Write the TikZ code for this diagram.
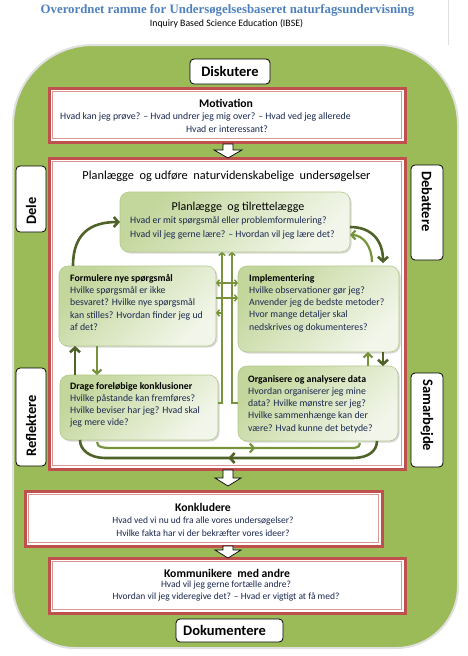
\documentclass[tikz,border=0pt]{standalone}
\usepackage{fontspec}
\setmainfont{Carlito}
\newfontfamily\titlefont{Liberation Serif}
\usetikzlibrary{arrows.meta,calc,shadows,decorations.markings}

\definecolor{grn}{HTML}{9BBB59}
\definecolor{redb}{HTML}{C0504D}
\definecolor{pinkb}{HTML}{D99694}
\definecolor{darkg}{HTML}{4F6228}
\definecolor{lightg}{HTML}{77933C}
\definecolor{txtb}{HTML}{1A2850}
\definecolor{ttl}{HTML}{4F81BD}
\definecolor{gbdark}{HTML}{C3D69B}
\definecolor{gblight}{HTML}{F2F6EA}
\definecolor{gbedge}{HTML}{B3C98A}

\tikzset{
  redbox/.style={draw=redb, line width=3pt, fill=white, inner sep=0pt, outer sep=0pt},
  pinkline/.style={draw=pinkb, line width=0.8pt},
  greenbox/.style={draw=gbedge, line width=0.6pt, rounded corners=9pt,
     top color=gbdark, bottom color=gblight, shading angle=45,
     drop shadow={shadow xshift=1.5pt, shadow yshift=-1.5pt, opacity=0.3},
     inner sep=0pt, outer sep=0pt},
  labelbox/.style={draw=black, line width=0.8pt, fill=white, rounded corners=4pt,
     font=\bfseries\fontsize{14.5}{16}\selectfont, inner sep=0pt, outer sep=0pt},
  labeltext/.style={font=\bfseries\fontsize{14.5}{16}\selectfont, inner sep=0pt},
  headfont/.style={font=\bfseries\fontsize{11.7}{14}\selectfont, inner sep=0pt},
  bodytext/.style={font=\fontsize{9.8}{12.3}\selectfont, text=txtb, inner sep=0pt},
  smalltext/.style={font=\fontsize{9.5}{12.6}\selectfont, text=txtb, inner sep=0pt},
  darkarrow/.style={draw=darkg, line width=2.6pt, -{Straight Barb[length=4.5pt,width=10pt]}},
  darkline/.style={draw=darkg, line width=2.6pt},
  lightarrow/.style={draw=lightg, line width=2.2pt, -{Straight Barb[length=4pt,width=9pt]}},
  lightline/.style={draw=lightg, line width=2.2pt},
  thinarrow/.style={draw=lightg, line width=1.5pt, -{Straight Barb[length=2.5pt,width=6.5pt]}},
  blockarrow/.style={draw=black, line width=0.7pt, fill=white, line join=miter},
}

\begin{document}
\begin{tikzpicture}[x=1pt,y=-1pt]
\useasboundingbox (0,0) rectangle (467,656);
\fill[white] (0,0) rectangle (467,656);

% page edge
\draw[gray!25, line width=0.6pt] (448,0) -- (448,45);

% big green shape
\path[draw=white!88!black, line width=2pt, fill=grn]
  (13,350) [rounded corners=80pt] -- (13,45) -- (458,45) -- (458,350)
  [rounded corners=62pt] -- (458,648) -- (13,648) -- cycle;

% title
\node[font=\titlefont\bfseries\fontsize{12.8}{14}\selectfont, text=ttl, inner sep=0pt] (title) at (227.5,10) {Overordnet ramme for Undersøgelsesbaseret naturfagsundervisning};
\node[font=\fontsize{9.8}{11}\selectfont, inner sep=0pt] (subtitle) at (226.5,23.5) {Inquiry Based Science Education (IBSE)};

% Diskutere
\node[labelbox, minimum width=80pt, minimum height=25pt] (disk) at (230,71.5) {Diskutere};

% Motivation
\node[redbox, minimum width=356pt, minimum height=54pt] (mot) at (227,115) {};
\draw[pinkline] ($(mot.north west)+(3.5,3.5)$) rectangle ($(mot.south east)+(-3.5,-3.5)$);
\node[headfont] (motH) at (226,103) {Motivation};
\node[bodytext, anchor=west] (motL1) at (60,117) {Hvad kan jeg prøve? – Hvad undrer jeg mig over? – Hvad ved jeg allerede};
\node[bodytext] (motL2) at (227,129) {Hvad er interessant?};

% Main box
\node[redbox, minimum width=356pt, minimum height=311pt] (main) at (227,313.5) {};
\draw[pinkline] ($(main.north west)+(3.5,3.5)$) rectangle ($(main.south east)+(-3.5,-3.5)$);
\node[font=\fontsize{12.3}{14}\selectfont, inner sep=0pt] (mainT) at (226.5,176) {Planlægge\ \ og udføre\ \ naturvidenskabelige\ \ undersøgelser};

% block arrow motivation -> main
\coordinate (a1) at ($(mot.south)+(1,8)$);
\draw[blockarrow] (a1) ++(-5,-6) -- ++(0,6) -- ++(-9,0) -- ++(14,8) -- ++(14,-8) -- ++(-9,0) -- ++(0,-6) -- cycle;

% side labels
\node[labelbox, minimum width=30pt, minimum height=66pt] (dele) at (31,199) {};
\node[labeltext, rotate=90, anchor=west] (deleT) at ($(dele.south)+(0,-7)$) {Dele};
\node[labelbox, minimum width=30pt, minimum height=98pt] (refl) at (31,417) {};
\node[labeltext, rotate=90, anchor=west] (reflT) at ($(refl.south)+(0,-9)$) {Reflektere};
\node[labelbox, minimum width=32pt, minimum height=95pt] (deba) at (427,212.5) {};
\node[labeltext, rotate=-90, anchor=west] (debaT) at ($(deba.north)+(0,6)$) {Debattere};
\node[labelbox, minimum width=32pt, minimum height=94pt] (sama) at (427,420) {};
\node[labeltext, rotate=-90, anchor=west] (samaT) at ($(sama.north)+(0,6)$) {Samarbejde};

% green boxes
\node[greenbox, minimum width=230pt, minimum height=60pt] (P) at (235,222) {};
\node[greenbox, minimum width=157pt, minimum height=80pt] (F) at (137.5,306) {};
\node[greenbox, minimum width=161pt, minimum height=86pt] (I) at (318.5,309) {};
\node[greenbox, minimum width=158pt, minimum height=65pt] (D) at (139,407.5) {};
\node[greenbox, minimum width=160pt, minimum height=75pt] (O) at (318,403.5) {};

\node[font=\fontsize{12}{14}\selectfont, inner sep=0pt] (Ph) at (238,207) {Planlægge\ \ og tilrettelægge};
\node[bodytext, anchor=north west, align=left, font=\fontsize{9.8}{14}\selectfont] (Pt) at (130,216) {Hvad er mit spørgsmål eller problemformulering?\\Hvad vil jeg gerne lære? – Hvordan vil jeg lære det?};
\node[bodytext, anchor=north west, align=left] (Ft) at (70,274) {{\color{black}\bfseries Formulere nye spørgsmål}\\Hvilke spørgsmål er ikke\\besvaret? Hvilke nye spørgsmål\\kan stilles? Hvordan finder jeg ud\\af det?};
\node[bodytext, anchor=north west, align=left] (It) at (249,274) {{\color{black}\bfseries Implementering}\\Hvilke observationer gør jeg?\\Anvender jeg de bedste metoder?\\Hvor mange detaljer skal\\nedskrives og dokumenteres?};
\node[bodytext, anchor=north west, align=left] (Dt) at (70,382) {{\color{black}\bfseries Drage foreløbige konklusioner}\\Hvilke påstande kan fremføres?\\Hvilke beviser har jeg? Hvad skal\\jeg mere vide?};
\node[bodytext, anchor=north west, align=left] (Ot) at (248,375) {{\color{black}\bfseries Organisere og analysere data}\\Hvordan organiserer jeg mine\\data? Hvilke mønstre ser jeg?\\Hvilke sammenhænge kan der\\være? Hvad kunne det betyde?};

% connectors
\draw[darkarrow] ($(F.north west)+(14,0)$) .. controls +(0,-32) and +(-30,0) .. (P.west);
\draw[darkarrow] ($(P.east)+(0,5)$) .. controls +(22,0) and +(0,-22) .. ($(I.north east)+(-16,-3)$);
\draw[lightarrow] ($(I.north east)+(-27,-4)$) .. controls +(0,-14) and +(14,0) .. ($(P.east)+(0,13)$);
\draw[darkarrow] ($(I.south east)+(-16,0)$) -- ($(O.north east)+(-15,0)$);
\draw[lightarrow] ($(O.north east)+(-30,0)$) -- ($(I.south east)+(-31,0)$);
\draw[darkarrow] ($(D.north west)+(15,0)$) -- ($(F.south west)+(16,0)$);
\draw[lightarrow] ($(F.south west)+(38,0)$) -- ($(D.north west)+(37,0)$);

\draw[darkline, decoration={markings, mark=at position 0.5 with {\arrow{Straight Barb[length=4.5pt,width=10pt]}}}, postaction={decorate}]
  ($(O.south east)+(-21,0)$) .. controls +(0,10) and +(15,0) .. ($(O.south east)+(-45,17)$)
  -- ($(D.south west)+(45,18)$) .. controls +(-15,0) and +(0,10) .. ($(D.south west)+(20,0)$);
\draw[lightline, decoration={markings, mark=at position 0.6 with {\arrow{Straight Barb[length=4pt,width=9pt]}}}, postaction={decorate}]
  ($(D.south west)+(37,2)$) .. controls +(0,6) and +(-10,0) .. ($(D.south west)+(55,8)$)
  -- ($(O.south east)+(-55,7)$) .. controls +(10,0) and +(0,6) .. ($(O.south east)+(-38,2)$);

\draw[thinarrow] ($(D.east)+(0,-4.5)$) -| ($(P.south)+(-13,0)$);
\draw[thinarrow] ($(O.west)+(0,-0.5)$) -| ($(P.south)+(-3,0)$);
\draw[thinarrow, {Straight Barb[length=2.5pt,width=6.5pt]}-{Straight Barb[length=2.5pt,width=6.5pt]}] ($(F.east)+(0,-23)$) -- ($(I.west)+(0,-26)$);
\draw[thinarrow] ($(F.east)+(0,-8)$) -- ($(I.west)+(0,-11)$);
\draw[thinarrow] ($(F.east)+(6,7)$) -- ($(F.east)+(0,7)$);

% block arrow main -> Konkludere
\coordinate (a2) at ($(main.south)+(1,9)$);
\draw[blockarrow] (a2) ++(-5,-8) -- ++(0,8) -- ++(-8,0) -- ++(13,8) -- ++(13,-8) -- ++(-8,0) -- ++(0,-8) -- cycle;

% Konkludere
\node[redbox, minimum width=357pt, minimum height=55pt] (konk) at (203.5,518.5) {};
\draw[pinkline] ($(konk.north west)+(3.5,3.5)$) rectangle ($(konk.south east)+(-3.5,-3.5)$);
\node[headfont] (konkH) at (203,507) {Konkludere};
\node[smalltext, align=center] (konkT) at (203,526.5) {Hvad ved vi nu ud fra alle vores undersøgelser?\\Hvilke fakta har vi der bekræfter vores ideer?};

% Kommunikere
\node[redbox, minimum width=356pt, minimum height=55pt] (komm) at (227,585.5) {};
\draw[pinkline] ($(komm.north west)+(3.5,3.5)$) rectangle ($(komm.south east)+(-3.5,-3.5)$);
\node[headfont] (kommH) at (227,573) {Kommunikere\ \ med andre};
\node[smalltext, align=center] (kommT) at (226,591) {Hvad vil jeg gerne fortælle andre?\\Hvordan vil jeg videregive det? – Hvad er vigtigt at få med?};

% block arrow Konkludere -> Kommunikere
\coordinate (a3) at ($(komm.north)+(1,-8)$);
\draw[blockarrow] (a3) ++(-5,-4) -- ++(0,4) -- ++(-8,0) -- ++(13,8) -- ++(13,-8) -- ++(-8,0) -- ++(0,-4) -- cycle;

% Dokumentere
\node[labelbox, minimum width=107pt, minimum height=23pt] (doku) at (229.5,630.5) {};
\node[labeltext, anchor=west] (dokuT) at ($(doku.west)+(7,0)$) {Dokumentere};
\end{tikzpicture}
\end{document}
